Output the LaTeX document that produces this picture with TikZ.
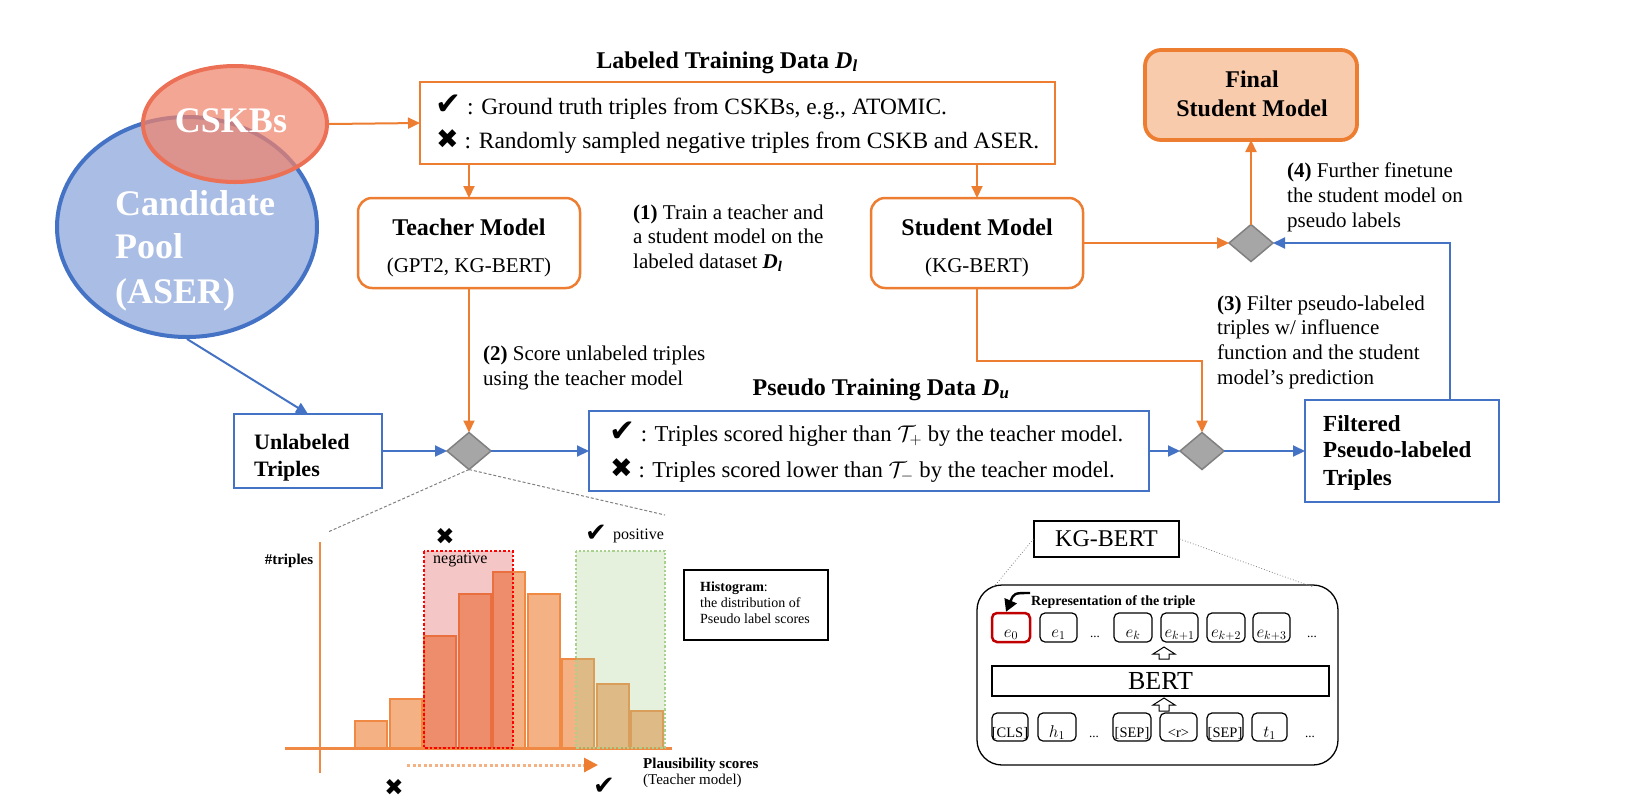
\RequirePackage{fix-cm}
\documentclass[tikz,border=0pt]{standalone}
\usepackage{fontspec}
\setmainfont{Liberation Serif}
\newfontfamily\symf{DejaVu Sans}
\usetikzlibrary{shapes.geometric,arrows.meta}
\definecolor{myor}{RGB}{237,125,49}
\definecolor{myblue}{RGB}{68,114,196}
\definecolor{poolfill}{RGB}{170,189,228}
\definecolor{cskbline}{RGB}{236,112,86}
\definecolor{cskbfill}{RGB}{240,132,108}
\definecolor{dgray}{RGB}{128,128,128}
\definecolor{dfill}{RGB}{166,166,166}
\definecolor{finalfill}{RGB}{248,203,173}
\definecolor{barfill}{RGB}{244,177,131}
\definecolor{barline}{RGB}{239,137,67}
\definecolor{negfill}{RGB}{220,50,50}
\definecolor{posfill}{RGB}{169,209,142}
\definecolor{ered}{RGB}{192,0,0}
\newcommand\fsz[2]{\fontsize{#1}{#2}\selectfont}
\newcommand\ck[1]{{\symf\fontsize{#1}{#1}\selectfont ✔}}
\newcommand\cx[1]{{\symf\fontsize{#1}{#1}\selectfont ✖}}
\begin{document}
\begin{tikzpicture}[x=1pt,y=-1pt,
  obox/.style={draw=myor, line width=2.5pt, rounded corners=14pt, inner sep=0pt, outer sep=0pt},
  sqo/.style={draw=myor, line width=2.5pt, inner sep=0pt, outer sep=0pt},
  bbox/.style={draw=myblue, line width=2.5pt, inner sep=0pt, outer sep=0pt},
  dia/.style={diamond, draw=dgray, fill=dfill, line width=1.5pt, minimum width=44pt, minimum height=37pt, inner sep=0pt, outer sep=0pt},
  oarr/.style={draw=myor, line width=2pt, -{Triangle[length=12pt,width=11pt]}},
  barr/.style={draw=myblue, line width=2pt, -{Triangle[length=12pt,width=11pt]}},
  lbl/.style={inner sep=0pt, anchor=base west, font=\fsz{21}{25}},
  boxtxt/.style={inner sep=0pt, anchor=base west, font=\fsz{23.4}{27}},
  boxtxtb/.style={inner sep=0pt, anchor=base west, font=\fsz{22.7}{27}},
  ttl/.style={inner sep=0pt, anchor=base, font=\fsz{24}{28}\bfseries},
  mtx/.style={inner sep=0pt, anchor=base, font=\fsz{21}{25}},
  bigw/.style={inner sep=0pt, text=white, font=\fsz{36}{40}\bfseries},
  btx/.style={inner sep=0pt, anchor=base west, font=\fsz{23}{27}\bfseries},
  htx/.style={inner sep=0pt, anchor=base west, font=\fsz{15}{18}},
  sbox/.style={draw, line width=1.2pt, rounded corners=5pt, minimum height=29pt, inner sep=0pt},
  gtx/.style={inner sep=0pt, anchor=base, font=\fsz{14.5}{17}},
  dotsx/.style={inner sep=0pt, anchor=base, font=\fsz{13}{15}},
]
\useasboundingbox (0,0) rectangle (1629,807);

% ---------- ellipses ----------
\node[ellipse, draw=myblue, fill=poolfill, line width=4pt, minimum width=260pt, minimum height=220pt, inner sep=0pt] (pool) at (187,227) {};
\node[ellipse, draw=cskbline, fill=cskbfill, fill opacity=0.72, line width=4pt, minimum width=184pt, minimum height=116pt, inner sep=0pt] (cskb) at (235,124) {};
\node[bigw, anchor=base] (cskbt) at (231,132) {CSKBs};
\node[bigw, anchor=base west] (pt1) at (115,215) {Candidate};
\node[bigw, anchor=base west] (pt2) at (115,258) {Pool};
\node[bigw, anchor=base west] (pt3) at (115,303) {(ASER)};

% ---------- labeled data ----------
\node[sqo, minimum width=635pt, minimum height=82pt] (lab) at (737.5,123) {};
\node[ttl] (labt) at (727,68) {Labeled Training Data \textit{D}\textsubscript{\textit{l}}};
\node[boxtxt] (l1) at (435,114) {\ck{31} : Ground truth triples from CSKBs, e.g., ATOMIC.};
\node[boxtxt] (l2) at (436,148) {\cx{27} : Randomly sampled negative triples from CSKB and ASER.};

% ---------- teacher / student ----------
\node[obox, minimum width=222pt, minimum height=90pt] (teacher) at (469,243) {};
\node[ttl] (tt1) at (469,235) {Teacher Model};
\node[mtx] (tt2) at (469,272) {(GPT2, KG-BERT)};
\node[obox, minimum width=212pt, minimum height=90pt] (student) at (977,243) {};
\node[ttl] (st1) at (977,235) {Student Model};
\node[mtx] (st2) at (977,272) {(KG-BERT)};

% ---------- final ----------
\node[obox, fill=finalfill, line width=3.8pt, rounded corners=16pt, minimum width=212pt, minimum height=90pt] (final) at (1251,95) {};
\node[ttl] (ft1) at (1252,87) {Final};
\node[ttl] (ft2) at (1252,116) {Student Model};

% ---------- diamonds ----------
\node[dia] (d1) at (469,451) {};
\node[dia] (d2) at (1202,451) {};
\node[dia] (d3) at (1251,243) {};

% ---------- unlabeled / pseudo / filtered ----------
\node[bbox, minimum width=148pt, minimum height=74pt] (unl) at (308,451) {};
\node[btx, font=\fsz{22}{26}\bfseries] (ut1) at (254,449) {Unlabeled};
\node[btx, font=\fsz{22}{26}\bfseries] (ut2) at (254,476) {Triples};

\node[bbox, minimum width=560pt, minimum height=80pt] (pse) at (869,451) {};
\node[ttl] (pset) at (881,395) {Pseudo Training Data \textit{D}\textsubscript{\textit{u}}};
\node[boxtxtb] (p1) at (609,441) {\ck{31} : Triples scored higher than $\mathcal{T}_{+}$ by the teacher model.};
\node[boxtxtb] (p2) at (610,477) {\cx{27} : Triples scored lower than $\mathcal{T}_{-}$ by the teacher model.};

\node[bbox, minimum width=194pt, minimum height=102pt] (filt) at (1402,451) {};
\node[btx] (ftx1) at (1323,431) {Filtered};
\node[btx] (ftx2) at (1323,457) {Pseudo-labeled};
\node[btx] (ftx3) at (1323,485) {Triples};

% ---------- annotations ----------
\node[lbl] (a11) at (633,219) {\textbf{(1)} Train a teacher and};
\node[lbl] (a12) at (633,243.5) {a student model on the};
\node[lbl] (a13) at (633,268) {labeled dataset \textbf{\textit{D}\textsubscript{\textit{l}}}};
\node[lbl] (a21) at (483,360) {\textbf{(2)} Score unlabeled triples};
\node[lbl] (a22) at (483,385) {using the teacher model};
\node[lbl] (a31) at (1217,310) {\textbf{(3)} Filter pseudo-labeled};
\node[lbl] (a32) at (1217,334.5) {triples w/ influence};
\node[lbl] (a33) at (1217,359) {function and the student};
\node[lbl] (a34) at (1217,384) {model’s prediction};
\node[lbl] (a41) at (1287,177) {\textbf{(4)} Further finetune};
\node[lbl] (a42) at (1287,202) {the student model on};
\node[lbl] (a43) at (1287,227) {pseudo labels};

% ---------- connectors ----------
\draw[oarr] (cskb.east) -- (lab.west);
\draw[oarr] (lab.south -| teacher.north) -- (teacher.north);
\draw[oarr] (lab.south -| student.north) -- (student.north);
\draw[oarr] (teacher.south) -- (d1.north);
\draw[barr] (pool.south) -- (unl.north);
\draw[barr] (unl.east) -- (d1.west);
\draw[barr] (d1.east) -- (pse.west);
\draw[barr] (pse.east) -- (d2.west);
\draw[barr] (d2.east) -- (filt.west);
\coordinate (j1) at (1202,361);
\draw[oarr] (student.south) |- (j1) -- (d2.north);
\draw[oarr] (student.east) -- (d3.west);
\coordinate (j3) at (1450,243);
\draw[barr] (filt.north -| j3) -- (j3) -- (d3.east);
\draw[oarr] (d3.north) -- (final.south);

% ---------- zoom lines to histogram ----------
\coordinate (hl) at (328,532);
\coordinate (hr) at (665,515);
\draw[dgray, line width=1pt, dash pattern=on 3pt off 2pt] (d1.south) -- (hl);
\draw[dgray, line width=1pt, dash pattern=on 3pt off 2pt] (d1.south) -- (hr);

% ---------- histogram ----------
\draw[barline, line width=2.5pt] (320,542) -- (320,773);
\draw[barline, line width=3pt] (285,748) -- (672,748);
\foreach \i/\t in {0/721,1/699,2/636,3/594,4/572,5/594,6/659,7/684,8/711}{
  \draw[draw=barline, fill=barfill, line width=2pt] (355+34.5*\i,748) rectangle (387+34.5*\i,\t);
}
\fill[negfill, opacity=0.28] (424,551) rectangle (513,748);
\draw[red, line width=2.5pt, dotted] (424,551) rectangle (513,748);
\fill[posfill, opacity=0.3] (576,551) rectangle (665,748);
\draw[posfill, line width=2.2pt, dotted] (576,551) rectangle (665,748);
\node[inner sep=0pt, anchor=base, font=\fsz{15}{18}\bfseries] (ytl) at (289,564) {\#triples};
\node[htx, font=\fsz{16}{18}] (neg) at (433,563) {negative};
\node[htx, font=\fsz{16}{18}] (pos) at (613,539) {positive};
\node[inner sep=0pt] (cxn) at (445,536) {\cx{23}};
\node[inner sep=0pt] (ckp) at (596,533) {\ck{26}};
\node[inner sep=0pt] (cxb) at (394,787) {\cx{23}};
\node[inner sep=0pt] (ckb) at (604,786) {\ck{26}};
\draw[barfill, line width=3pt, dash pattern=on 3pt off 2.5pt, -{Triangle[length=14pt,width=14pt,color=myor]}] (407,765) -- (598,765);
\node[htx, font=\fsz{15}{18}\bfseries] (plx) at (643,768) {Plausibility scores};
\node[htx] (plx2) at (643,784) {(Teacher model)};

% legend
\node[draw, line width=1.5pt, minimum width=144pt, minimum height=70pt, inner sep=0pt] (leg) at (756,605) {};
\node[htx, font=\fsz{14}{16}] (lg1) at (700,591) {\textbf{Histogram}:};
\node[htx, font=\fsz{14}{16}] (lg2) at (700,607) {the distribution of};
\node[htx, font=\fsz{14}{16}] (lg3) at (700,623) {Pseudo label scores};

% ---------- KG-BERT ----------
\node[draw, line width=1.3pt, minimum width=145pt, minimum height=36pt, inner sep=0pt, font=\fsz{24}{28}] (kg) at (1106.5,539) {KG-BERT};
\node[draw, line width=1.3pt, rounded corners=25pt, minimum width=361pt, minimum height=180pt, inner sep=0pt] (big) at (1157.5,675) {};
\coordinate (kl) at (993,588);
\coordinate (kr) at (1313,587);
\draw[gray, line width=0.8pt, dotted] (kg.west) -- (kl);
\draw[gray, line width=0.8pt, dotted] (kg.east) -- (kr);
\node[inner sep=0pt, anchor=base west, font=\fsz{14}{16}\bfseries] (rep) at (1031,605) {Representation of the triple};

% top row
\node[sbox, draw=ered, line width=2.5pt, minimum width=38pt] (e0) at (1011,627.5) {};
\node[sbox, minimum width=37pt] (e1) at (1058.5,627.5) {};
\node[sbox, minimum width=38pt] (ek) at (1133,627.5) {};
\node[sbox, minimum width=37pt] (ek1) at (1179.5,627.5) {};
\node[sbox, minimum width=38pt] (ek2) at (1226,627.5) {};
\node[sbox, minimum width=37pt] (ek3) at (1271.5,627.5) {};
\node[gtx, font=\fsz{17}{19}] at (1011,637) {$e_0$};
\node[gtx, font=\fsz{17}{19}] at (1058.5,637) {$e_1$};
\node[dotsx] at (1095,637) {...};
\node[gtx, font=\fsz{17}{19}] at (1133,637) {$e_k$};
\node[gtx, font=\fsz{17}{19}] at (1179.5,637) {$e_{k+1}$};
\node[gtx, font=\fsz{17}{19}] at (1226,637) {$e_{k+2}$};
\node[gtx, font=\fsz{17}{19}] at (1271.5,637) {$e_{k+3}$};
\node[dotsx] at (1312,637) {...};
\coordinate (ra) at (1030,593);
\draw[line width=2.4pt, -{Triangle[length=12pt,width=13pt]}] (ra) .. controls (1014,593) .. ([xshift=-5pt]e0.north);

% BERT
\node[draw, line width=1.3pt, minimum width=337pt, minimum height=30pt, inner sep=0pt, font=\fsz{26}{28}] (bert) at (1160.5,681) {BERT};
\draw[line width=1pt, fill=white] (1164,647) -- (1175,654) -- (1169,654) -- (1169,659) -- (1159,659) -- (1159,654) -- (1153,654) -- cycle;
\draw[line width=1pt, fill=white] (1164,698) -- (1175,705) -- (1169,705) -- (1169,711) -- (1159,711) -- (1159,705) -- (1153,705) -- cycle;

% bottom row
\node[sbox, minimum width=36pt, minimum height=28pt] (cls) at (1010,727) {};
\node[sbox, minimum width=38pt, minimum height=28pt] (h1) at (1057,727) {};
\node[sbox, minimum width=38pt, minimum height=28pt] (sep1) at (1132,727) {};
\node[sbox, minimum width=37pt, minimum height=28pt] (rr) at (1178.5,727) {};
\node[sbox, minimum width=36pt, minimum height=28pt] (sep2) at (1225,727) {};
\node[sbox, minimum width=35pt, minimum height=28pt] (t1) at (1269.5,727) {};
\node[gtx] at (1010,737) {{[}CLS{]}};
\node[gtx, font=\fsz{17}{19}] at (1057,737) {$h_1$};
\node[dotsx] at (1094,737) {...};
\node[gtx] at (1132,737) {{[}SEP{]}};
\node[gtx] at (1178.5,737) {<r>};
\node[gtx] at (1225,737) {{[}SEP{]}};
\node[gtx, font=\fsz{17}{19}] at (1269.5,737) {$t_1$};
\node[dotsx] at (1310,737) {...};
\end{tikzpicture}
\end{document}
